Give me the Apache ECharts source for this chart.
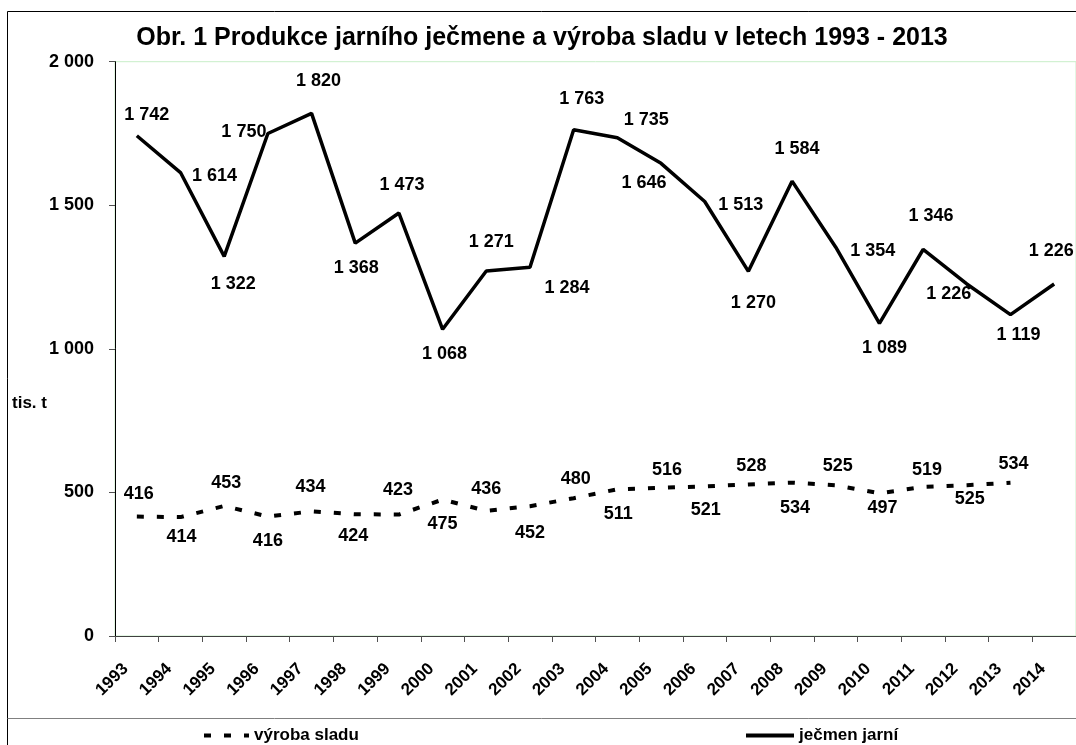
<!DOCTYPE html>
<html>
<head>
<meta charset="utf-8">
<script src="https://cdn.jsdelivr.net/npm/echarts@6/dist/echarts.min.js"></script>
<style>
html,body{margin:0;padding:0;background:#fff;}
#c{width:1076px;height:745px;}
</style>
</head>
<body>
<div id="c"></div>
<script>
// ---- data ----
const titleText = 'Obr. 1 Produkce jarního ječmene a výroba sladu v letech 1993 - 2013';
const years = ['1993','1994','1995','1996','1997','1998','1999','2000','2001','2002','2003',
               '2004','2005','2006','2007','2008','2009','2010','2011','2012','2013','2014'];
const jecmenName = 'ječmen jarní';
const jecmen = [1742,1614,1322,1750,1820,1368,1473,1068,1271,1284,1763,
                1735,1646,1513,1270,1584,1354,1089,1346,1226,1119,1226];
const sladName = 'výroba sladu';
const slad = [416,414,453,416,434,424,423,475,436,452,480,
              511,516,521,528,534,525,497,519,525,534];
const yMin = 0, yMax = 2000, yStep = 500;
const unitLabel = 'tis. t';

// label placement offsets (px), kept separate from the values
const jecmenLabelOffsets = [[10,-21],[34,3],[9,28],[-24,-1],[7,-32],[1,25],[3,-28],[2,25],[5,-29],[37,21],[8,-31],
                            [29,-18],[-17,20],[36,3],[5,32],[5,-32],[37,4],[5,25],[8,-33],[-18,10],[8,20],[-3,-33]];
const sladLabelOffsets = [[2,-23],[1,20],[2,-23],[0,24],[-1,-24],[-2,22],[-1,-25],[0,24],[0,-22],[0,27],[2,-19],
                          [1,25],[6,-18],[1,24],[3,-18],[3,25],[2,-19],[3,15],[4,-17],[3,14],[3,-19]];

const FONT = "'Liberation Sans', Arial, sans-serif";
const fmt = v => String(v).replace(/\B(?=(\d{3})+(?!\d))/g, ' ');

const chart = echarts.init(document.getElementById('c'), null, {renderer: 'canvas'});

const labelBase = {
  show: true, position: 'inside', color: '#000', fontSize: 18, fontWeight: 'bold',
  fontFamily: FONT, formatter: p => fmt(p.value)
};

chart.setOption({
  animation: false,
  backgroundColor: '#fff',
  title: {
    text: titleText, left: 537, top: 21, textAlign: 'center',
    textStyle: {fontFamily: FONT, fontSize: 25, fontWeight: 'bold', color: '#000'}
  },
  legend: [
    {data: [sladName], left: 202, top: 727, padding: 0, itemWidth: 45, itemHeight: 14,
     lineStyle: {width: 4},
     textStyle: {fontFamily: FONT, fontSize: 17, fontWeight: 'bold', color: '#000'}},
    {data: [jecmenName], left: 744, top: 727, padding: 0, itemWidth: 48, itemHeight: 14,
     lineStyle: {width: 4},
     textStyle: {fontFamily: FONT, fontSize: 17, fontWeight: 'bold', color: '#000'}}
  ],
  grid: {left: 115, right: -1, top: 61.7, bottom: 109, show: true, borderColor: '#c8eec8', borderWidth: 1},
  xAxis: {
    type: 'category', data: years, boundaryGap: true,
    axisLine: {lineStyle: {color: '#404040', width: 1}},
    axisTick: {show: true, length: 6, lineStyle: {color: '#505050'}},
    axisLabel: {interval: 0, rotate: 45, margin: 19, padding: [0, 16, 0, 0],
                fontFamily: FONT, fontSize: 17, fontWeight: 'bold', color: '#000'},
    splitLine: {show: false}
  },
  yAxis: {
    type: 'value', min: yMin, max: yMax, interval: yStep,
    axisLine: {show: true, lineStyle: {color: '#000', width: 1}},
    axisTick: {show: true, length: 6, lineStyle: {color: '#505050'}},
    axisLabel: {margin: 21, formatter: v => fmt(v), fontFamily: FONT, fontSize: 18, fontWeight: 'bold', color: '#000'},
    splitLine: {show: false}
  },
  graphic: [
    {type: 'line', shape: {x1: 7.5, y1: 11.5, x2: 1076, y2: 11.5}, style: {stroke: '#000', lineWidth: 1}, silent: true},
    {type: 'line', shape: {x1: 7.5, y1: 11.5, x2: 7.5, y2: 745}, style: {stroke: '#000', lineWidth: 1}, silent: true},
    {type: 'line', shape: {x1: 7.5, y1: 718.5, x2: 1076, y2: 718.5}, style: {stroke: '#808080', lineWidth: 1}, silent: true},
    {type: 'text', x: 12, y: 403, silent: true,
     style: {text: unitLabel, fill: '#000', font: "bold 17px 'Liberation Sans', Arial, sans-serif", textVerticalAlign: 'middle'}}
  ],
  series: [
    {
      name: sladName, type: 'line', silent: true,
      data: slad.map((v, i) => ({value: v, label: {offset: sladLabelOffsets[i]}})),
      symbol: 'circle', symbolSize: 1, showSymbol: true,
      itemStyle: {color: 'rgba(0,0,0,0)'},
      lineStyle: {color: '#000', width: 4, type: [7, 13]},
      label: labelBase
    },
    {
      name: jecmenName, type: 'line', silent: true,
      data: jecmen.map((v, i) => ({value: v, label: {offset: jecmenLabelOffsets[i]}})),
      symbol: 'circle', symbolSize: 1, showSymbol: true,
      itemStyle: {color: 'rgba(0,0,0,0)'},
      lineStyle: {color: '#000', width: 3.5},
      label: labelBase
    }
  ]
});
</script>
</body>
</html>
